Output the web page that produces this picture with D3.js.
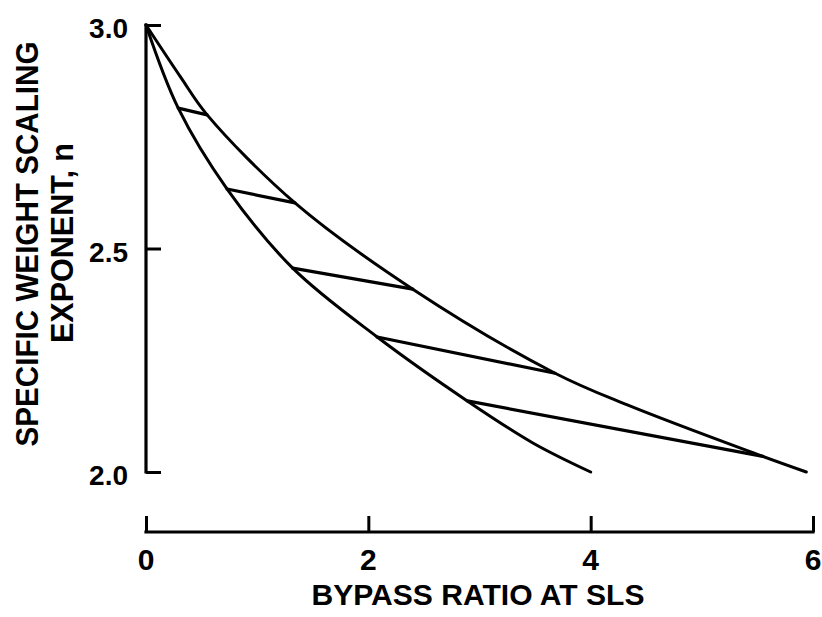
<!DOCTYPE html>
<html><head><meta charset="utf-8">
<script src="https://cdn.jsdelivr.net/npm/d3@7"></script>
<style>body{margin:0;background:#fff}svg{display:block}</style>
</head><body>
<script>
// Data
const lowerBPR = [0, 0.29, 0.73, 1.32, 2.08, 2.89, 3.48, 4.0];
const lowerN   = [3.0, 2.814, 2.633, 2.456, 2.302, 2.159, 2.065, 2.0];
const upperBPR = [0, 0.31, 0.55, 1.34, 2.40, 3.68, 4.33, 5.46, 5.94];
const upperN   = [3.0, 2.884, 2.799, 2.602, 2.409, 2.221, 2.150, 2.043, 2.0];
// cross-lines: lower point -> upper point
const barX1 = [0.29, 0.73, 1.32, 2.08, 2.89];
const barN1 = [2.814, 2.633, 2.456, 2.302, 2.159];
const barX2 = [0.55, 1.34, 2.40, 3.68, 5.55];
const barN2 = [2.799, 2.602, 2.409, 2.221, 2.035];
const xTicks = [0, 2, 4, 6];
const yTicks = [2.0, 2.5, 3.0];
const xTitle = "BYPASS RATIO AT SLS";
const yTitle1 = "SPECIFIC WEIGHT SCALING";
const yTitle2 = "EXPONENT, n";

const W = 822, H = 617;
const svg = d3.select("body").append("svg").attr("width", W).attr("height", H);
const x = d3.scaleLinear().domain([0, 6]).range([146, 813]);
const y = d3.scaleLinear().domain([2, 3]).range([472, 25]);
const font = "'Liberation Sans', Arial, sans-serif";
const ink = "#000";

// Y axis
const yAxis = d3.axisRight(y).tickValues(yTicks).tickSize(15).tickFormat("");
const gy = svg.append("g").attr("transform", `translate(${x(0)},0)`).call(yAxis);
gy.select(".domain").remove();
gy.selectAll(".tick line").attr("stroke", ink).attr("stroke-width", 3);
svg.append("line").attr("x1", x(0)).attr("x2", x(0)).attr("y1", y(3)).attr("y2", y(2))
  .attr("stroke", ink).attr("stroke-width", 3.2).attr("stroke-linecap", "square");
svg.append("g").selectAll("text").data(yTicks).join("text")
  .attr("x", 128).attr("y", d => y(d) + 13)
  .attr("text-anchor", "end").attr("font-family", font).attr("font-weight", "bold")
  .attr("font-size", 28).attr("fill", ink).text(d => d.toFixed(1));

// X axis
const axY = 532;
const xAxis = d3.axisTop(x).tickValues(xTicks).tickSize(16).tickFormat("");
const gx = svg.append("g").attr("transform", `translate(0,${axY})`).call(xAxis);
gx.select(".domain").remove();
gx.selectAll(".tick line").attr("stroke", ink).attr("stroke-width", 3);
svg.append("line").attr("x1", x(0)).attr("x2", x(6)).attr("y1", axY).attr("y2", axY)
  .attr("stroke", ink).attr("stroke-width", 3.2).attr("stroke-linecap", "square");
svg.append("g").selectAll("text").data(xTicks).join("text")
  .attr("x", d => x(d)).attr("y", 570)
  .attr("text-anchor", "middle").attr("font-family", font).attr("font-weight", "bold")
  .attr("font-size", 30).attr("fill", ink).text(d => d);

svg.append("text").attr("x", 478).attr("y", 605).attr("text-anchor", "middle")
  .attr("font-family", font).attr("font-weight", "bold").attr("font-size", 30)
  .attr("textLength", 333).attr("lengthAdjust", "spacingAndGlyphs")
  .attr("fill", ink).text(xTitle);

svg.append("text").attr("transform", "translate(38,244) rotate(-90)")
  .attr("text-anchor", "middle").attr("font-family", font).attr("font-weight", "bold")
  .attr("font-size", 31).attr("textLength", 405).attr("lengthAdjust", "spacingAndGlyphs")
  .attr("fill", ink).text(yTitle1);
svg.append("text").attr("transform", "translate(73,243) rotate(-90)")
  .attr("text-anchor", "middle").attr("font-family", font).attr("font-weight", "bold")
  .attr("font-size", 31).attr("textLength", 200).attr("lengthAdjust", "spacingAndGlyphs")
  .attr("fill", ink).text(yTitle2);

// Curves
const line = d3.line().x(d => x(d[0])).y(d => y(d[1])).curve(d3.curveCatmullRom.alpha(0.5));
const lower = lowerBPR.map((v, i) => [v, lowerN[i]]);
const upper = upperBPR.map((v, i) => [v, upperN[i]]);
[lower, upper].forEach(pts => {
  svg.append("path").attr("d", line(pts)).attr("fill", "none")
    .attr("stroke", ink).attr("stroke-width", 3).attr("stroke-linecap", "round");
});
svg.append("g").selectAll("line").data(barX1).join("line")
  .attr("x1", (d) => x(d)).attr("y1", (d, i) => y(barN1[i]))
  .attr("x2", (d, i) => x(barX2[i])).attr("y2", (d, i) => y(barN2[i]))
  .attr("stroke", ink).attr("stroke-width", 3.2).attr("stroke-linecap", "round");
</script>
</body></html>
